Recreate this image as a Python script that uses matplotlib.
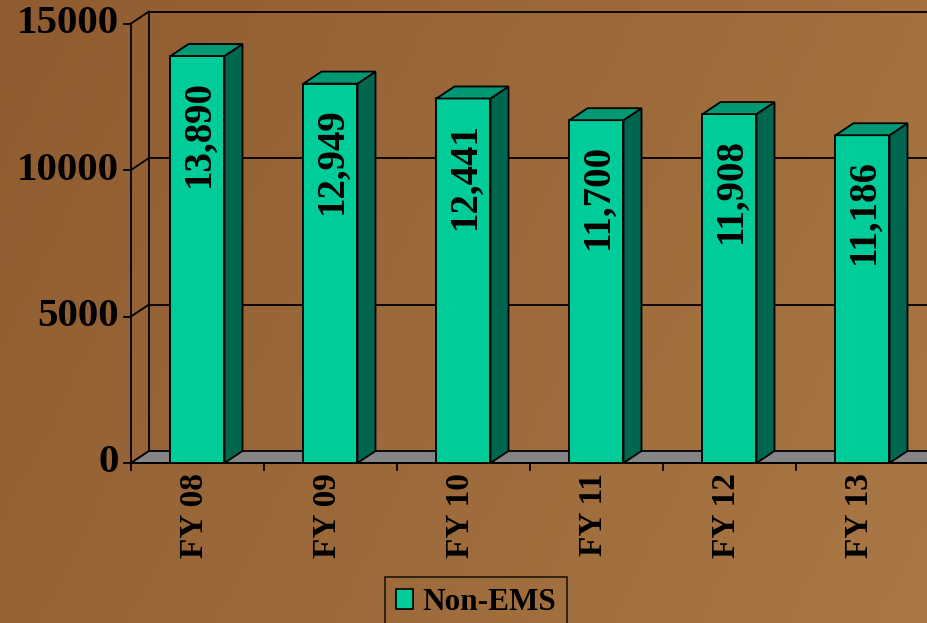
import numpy as np
import matplotlib
matplotlib.use("Agg")
import matplotlib.pyplot as plt
from matplotlib.patches import Polygon, Rectangle, Patch

# ---- data ----
categories = ["FY 08", "FY 09", "FY 10", "FY 11", "FY 12", "FY 13"]
values = [13890, 12949, 12441, 11700, 11908, 11186]
value_labels = ["13,890", "12,949", "12,441", "11,700", "11,908", "11,186"]
y_ticks = [0, 5000, 10000, 15000]
series_name = "Non-EMS"

# ---- styling / geometry ----
W, H = 928, 623
FONT = "Liberation Serif"
front_c = "#00CC99"
side_c = "#006650"
top_c = "#009974"
floor_c = "#858585"

px_per_cat = 133.0
px_per_val = 146.5 / 5000.0
x0_px = 197.5          # pixel x of first category centre
y0_px = 463.0          # pixel y (from top) of value 0

fig = plt.figure(figsize=(W / 100, H / 100), dpi=100)
ax = fig.add_axes([0, 0, 1, 1])
xmin = (0 - x0_px) / px_per_cat
xmax = (W - x0_px) / px_per_cat
ymin = -(H - y0_px) / px_per_val
ymax = y0_px / px_per_val
ax.set_xlim(xmin, xmax)
ax.set_ylim(ymin, ymax)
ax.axis("off")

# background: brown gradient
gx = np.linspace(0, 1, 200)
gy = np.linspace(0, 1, 140)
GX, GY = np.meshgrid(gx, gy)
c_left = np.array([0x8E, 0x5C, 0x30]) / 255
c_right = np.array([0xAA, 0x78, 0x45]) / 255
t = np.clip(0.75 * GX + 0.25 * (1 - GY), 0, 1)[..., None]
img = c_left * (1 - t) + c_right * t
ax.imshow(img, extent=[0, 1, 0, 1], transform=ax.transAxes, aspect="auto", zorder=0, origin="lower")

DX = 18 / px_per_cat
DY = 12 / px_per_val
half = 27 / px_per_cat
xl = -0.5
lw = 1.3

# floor
ax.add_patch(Polygon([(xl, 0), (xl + DX, DY), (xmax + 1, DY), (xmax + 1, 0)],
                     closed=True, facecolor=floor_c, edgecolor="black", lw=lw, zorder=2))
# back wall vertical + gridlines
ax.plot([xl + DX, xl + DX], [DY, y_ticks[-1] + DY], color="black", lw=lw, zorder=1)
for v in y_ticks[1:]:
    ax.plot([xl + DX, xmax + 1], [v + DY, v + DY], color="black", lw=lw, zorder=1)
for v in y_ticks:
    ax.plot([xl, xl + DX], [v, v + DY], color="black", lw=lw, zorder=1)
# front y axis and ticks
ax.plot([xl, xl], [0, y_ticks[-1]], color="black", lw=lw, zorder=3)
for v in y_ticks:
    ax.plot([xl - 7 / px_per_cat, xl], [v, v], color="black", lw=lw, zorder=3)
    ax.text(xl - 12 / px_per_cat, v, f"{v}", ha="right", va="center",
            fontsize=29.5, fontweight="bold", family=FONT, zorder=5)
# front x axis and ticks
ax.plot([xl, xmax + 1], [0, 0], color="black", lw=lw, zorder=3)
for i in range(len(categories) + 1):
    ax.plot([xl + i, xl + i], [0, -7 / px_per_val], color="black", lw=lw, zorder=3)

# bars
for i, (v, lab) in enumerate(zip(values, value_labels)):
    xa, xb = i - half, i + half
    ax.add_patch(Rectangle((xa, 0), xb - xa, v, facecolor=front_c, edgecolor="black", lw=lw, zorder=4))
    ax.add_patch(Polygon([(xb, 0), (xb + DX, DY), (xb + DX, v + DY), (xb, v)],
                         closed=True, facecolor=side_c, edgecolor="black", lw=lw, zorder=4))
    ax.add_patch(Polygon([(xa, v), (xa + DX, v + DY), (xb + DX, v + DY), (xb, v)],
                         closed=True, facecolor=top_c, edgecolor="black", lw=lw, zorder=4))
    ax.text(i + 2 / px_per_cat, v - 24 / px_per_val, lab, rotation=90, ha="center", va="top",
            fontsize=28, fontweight="bold", family=FONT, zorder=6)
    ax.text(i - 3 / px_per_cat, -10 / px_per_val, categories[i], rotation=90, ha="center", va="top",
            fontsize=24, fontweight="bold", family=FONT, zorder=6)

# legend
leg = fig.legend(handles=[Patch(facecolor=front_c, edgecolor="black", lw=1.2, label=series_name)],
                 loc="upper center", bbox_to_anchor=(476 / W, 1 - 577 / H), borderaxespad=0,
                 frameon=True, fancybox=False, handlelength=0.57, handleheight=0.57,
                 handletextpad=0.3, borderpad=0.35,
                 prop={"family": FONT, "weight": "bold", "size": 22.5})
leg.get_frame().set_edgecolor("black")
leg.get_frame().set_facecolor("none")
leg.get_frame().set_linewidth(1.2)

fig.savefig("out.png", dpi=100)
